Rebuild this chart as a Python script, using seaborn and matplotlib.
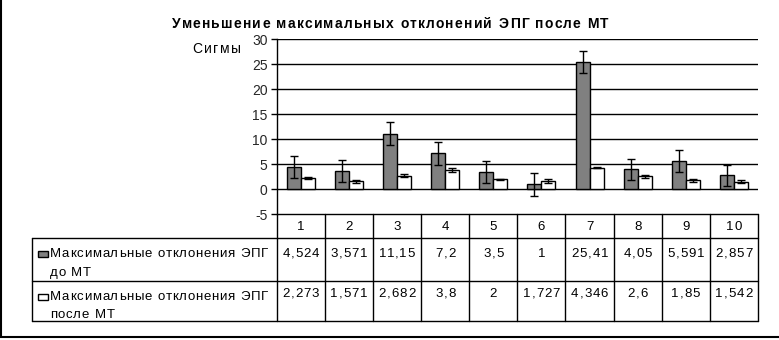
import matplotlib
matplotlib.use("Agg")
import matplotlib.pyplot as plt
from matplotlib.font_manager import FontProperties
import seaborn as sns
import pandas as pd
import numpy as np

# ---- data ----
categories = ["1", "2", "3", "4", "5", "6", "7", "8", "9", "10"]
series_names = ["Максимальные отклонения ЭПГ до МТ",
                "Максимальные отклонения ЭПГ после МТ"]
before_mt = [4.524, 3.571, 11.15, 7.2, 3.5, 1, 25.41, 4.05, 5.591, 2.857]
after_mt = [2.273, 1.571, 2.682, 3.8, 2, 1.727, 4.346, 2.6, 1.85, 1.542]
before_err = [2.2, 2.2, 2.3, 2.3, 2.2, 2.3, 2.2, 2.1, 2.2, 2.1]
after_err = [0.15, 0.3, 0.3, 0.4, 0.15, 0.4, 0.15, 0.3, 0.3, 0.3]
y_ticks = [-5, 0, 5, 10, 15, 20, 25, 30]
title = "Уменьшение максимальных отклонений ЭПГ после МТ"
y_label = "Сигмы"

sns.set_theme(style="white")
FAM = ["Liberation Sans", "DejaVu Sans"]
plt.rcParams["font.family"] = FAM

W, H = 779, 340
fig = plt.figure(figsize=(W / 100, H / 100), dpi=100)

# overlay axes in pixel coordinates (y downward)
ov = fig.add_axes([0, 0, 1, 1], zorder=0)
ov.set_xlim(0, W)
ov.set_ylim(H, 0)
ov.axis("off")

ax_left, ax_right = 276.7, 758.0
ax_top, ax_bot = 39.3, 214.3
ax = fig.add_axes([ax_left / W, (H - ax_bot) / H, (ax_right - ax_left) / W,
                   (ax_bot - ax_top) / H], zorder=2)
ax.patch.set_alpha(0)

df = pd.DataFrame({
    "cat": categories * 2,
    "series": [series_names[0]] * len(categories) + [series_names[1]] * len(categories),
    "value": before_mt + after_mt,
})
sns.barplot(data=df, x="cat", y="value", hue="series", order=categories,
            hue_order=series_names, palette=["#808080", "#ffffff"],
            edgecolor="black", linewidth=1, width=0.58, errorbar=None,
            saturation=1, ax=ax, legend=False, zorder=3)

for cont, errs in zip(ax.containers, [before_err, after_err]):
    xs = [b.get_x() + b.get_width() / 2 for b in cont]
    hs = [b.get_height() for b in cont]
    ax.errorbar(xs, hs, yerr=errs, fmt="none", ecolor="black", elinewidth=1,
                capsize=2.6, capthick=1, zorder=4)

ax.set_ylim(-5, 30)
ax.set_xlim(-0.5, len(categories) - 0.5)
ax.set_yticks(y_ticks)
ax.set_yticklabels([str(t) for t in y_ticks], fontsize=10)
ax.tick_params(axis="y", direction="out", length=4, width=1, color="black",
               pad=2.5, left=True)
ax.tick_params(axis="x", bottom=False, labelbottom=False)
ax.set_xlabel("")
ax.set_ylabel("")
for t in y_ticks:
    if t > -5:
        ax.axhline(t, color="black", lw=1, zorder=1)
for s in ["top", "right", "bottom"]:
    ax.spines[s].set_visible(False)
ax.spines["left"].set_color("black")
ax.spines["left"].set_linewidth(1)

fig.canvas.draw()
renderer = fig.canvas.get_renderer()


def text_w(s, prop):
    w1 = renderer.get_text_width_height_descent(s + "|", prop, ismath=False)[0]
    w0 = renderer.get_text_width_height_descent("|", prop, ismath=False)[0]
    return w1 - w0


def spaced(x, y, s, size, ha="left", weight="normal", spacing=None,
           target=None):
    """Draw text with letter spacing; y is the baseline (pixels)."""
    prop = FontProperties(family=FAM, size=size, weight=weight)
    base = text_w(s, prop)
    n = len(s)
    if target is not None and n > 1:
        spacing = (target - base) / (n - 1)
    spacing = spacing or 0.0
    total = base + spacing * (n - 1)
    if ha == "center":
        x0 = x - total / 2
    elif ha == "right":
        x0 = x - total
    else:
        x0 = x
    for i, ch in enumerate(s):
        if ch == " ":
            continue
        xi = x0 + text_w(s[:i], prop) + spacing * i
        ov.text(xi, y, ch, ha="left", va="baseline", fontproperties=prop,
                color="black")


# title and y label
spaced(390, 27.6, title, 10, ha="center", weight="bold", target=436)
spaced(216.5, 53.2, y_label, 10, ha="center", target=49)

# ---- data table ----
def px_x(v):
    return ax.transData.transform((v, 0))[0]

edges = [px_x(i - 0.5) for i in range(len(categories) + 1)]
tbl_left = 32.3
row_y = [214.3, 238.3, 281.0, 321.0]
lw = 1
ov.plot([edges[0], edges[-1]], [row_y[0], row_y[0]], color="black", lw=lw)
for y in row_y[1:]:
    ov.plot([tbl_left, edges[-1]], [y, y], color="black", lw=lw)
for e in edges:
    ov.plot([e, e], [row_y[0], row_y[-1]], color="black", lw=lw)
ov.plot([tbl_left, tbl_left], [row_y[1], row_y[-1]], color="black", lw=lw)


def fmt(v):
    return f"{v:g}".replace(".", ",")


for i, c in enumerate(categories):
    cx = (edges[i] + edges[i + 1]) / 2
    spaced(cx, 229.5, c, 9.5, ha="center", spacing=1.0)
    spaced(cx, 257.3, fmt(before_mt[i]), 9.5, ha="center", spacing=1.0)
    spaced(cx, 297.3, fmt(after_mt[i]), 9.5, ha="center", spacing=1.0)

# legend keys + series labels
for (ytop, name, col) in [(238.3, series_names[0], "#808080"),
                          (281.0, series_names[1], "#ffffff")]:
    ov.add_patch(plt.Rectangle((37.7, ytop + 12.5), 10, 6, facecolor=col,
                               edgecolor="black", lw=1))
    words = name.split(" ")
    first, second = " ".join(words[:3]), " ".join(words[3:])
    spaced(50, ytop + 19, first, 9.5, target=218)
    prop = FontProperties(family=FAM, size=9.5)
    sp = (218 - text_w(first, prop)) / (len(first) - 1)
    spaced(50, ytop + 37.3, second, 9.5, spacing=sp)

# outer frame (left and bottom)
ov.plot([1, 1], [0, 337], color="black", lw=1.5)
ov.plot([0, W], [336.5, 336.5], color="black", lw=1.5)

fig.savefig("out.png", dpi=100)
